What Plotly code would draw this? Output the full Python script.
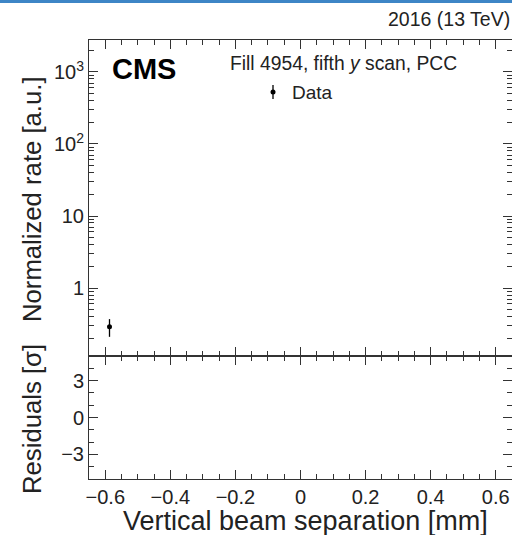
import plotly.graph_objects as go

# ---- data ----
separation_mm = [-0.587]
normalized_rate = [0.29]
rate_err = [0.08]

x_tickvals = [-0.6, -0.4, -0.2, 0, 0.2, 0.4, 0.6]
x_ticktext = ["\u22120.6", "\u22120.4", "\u22120.2", "0", "0.2", "0.4", "0.6"]
y_tickvals = [1, 10, 100, 1000]
y_ticktext = ["1", "10", "10<sup>2</sup>", "10<sup>3</sup>"]
res_tickvals = [-3, 0, 3]
res_ticktext = ["\u22123", "0", "3"]

FONT = "Liberation Sans, Arial, sans-serif"
TXT = "#222222"
AX = "#333333"

W, H = 512, 535
L, R, T, B = 89, 0, 40, 56
plot_w = W - L - R
plot_h = H - T - B
split = (479 - 356) / plot_h

log_minor = [m * 10 ** k for k in range(-1, 4) for m in range(2, 10)]

MAJ, MIN = 9, 5
fig = go.Figure()
fig.add_trace(go.Scatter(
    x=separation_mm, y=normalized_rate, mode="markers",
    marker=dict(color="black", size=5),
    error_y=dict(type="data", array=rate_err, color="black", thickness=1.3, width=0),
    xaxis="x", yaxis="y", showlegend=False))
fig.add_trace(go.Scatter(x=[], y=[], xaxis="x2", yaxis="y2", showlegend=False))

common_x = dict(range=[-0.65, 0.65], showgrid=False, zeroline=False, showline=True,
                linecolor=AX, linewidth=1, ticks="inside", ticklen=MAJ, tickwidth=1,
                tickcolor=AX, mirror="ticks", tickvals=x_tickvals,
                minor=dict(dtick=0.05, tick0=0, ticks="inside", ticklen=MIN, tickcolor=AX, tickwidth=1))

TICKSIZE = 20
fig.update_layout(
    width=W, height=H,
    margin=dict(l=L, r=R, t=T, b=B),
    paper_bgcolor="white", plot_bgcolor="white",
    font=dict(family=FONT, color=TXT, size=TICKSIZE),
    xaxis=dict(common_x, domain=[0, 1], anchor="y", showticklabels=False, ticktext=x_ticktext),
    yaxis=dict(type="log", range=[-0.944, 3.444], domain=[split, 1], anchor="x",
               showgrid=False, zeroline=False, showline=True, linecolor=AX, linewidth=1,
               ticks="inside", ticklen=MAJ, tickwidth=1, tickcolor=AX, mirror="ticks",
               tickvals=y_tickvals, ticktext=y_ticktext, tickfont=dict(size=TICKSIZE),
               minor=dict(tickvals=log_minor, ticks="inside", ticklen=MIN, tickcolor=AX, tickwidth=1)),
    xaxis2=dict(common_x, domain=[0, 1], anchor="y2", ticktext=x_ticktext,
                tickfont=dict(size=TICKSIZE)),
    yaxis2=dict(range=[-5, 5], domain=[0, split], anchor="x2",
                showgrid=False, zeroline=False, showline=True, linecolor=AX, linewidth=1,
                ticks="inside", ticklen=MAJ, tickwidth=1, tickcolor=AX, mirror="ticks",
                tickvals=res_tickvals, ticktext=res_ticktext, tickfont=dict(size=TICKSIZE),
                minor=dict(dtick=1, tick0=0, ticks="inside", ticklen=MIN, tickcolor=AX, tickwidth=1)),
)


def px(xp):
    return (xp - L) / plot_w


def py(yp):
    return (479 - yp) / plot_h


ann = [
    dict(text="<b>CMS</b>", x=px(110), y=py(69), xanchor="left", yanchor="middle",
         font=dict(size=29, color="black")),
    dict(text="Fill 4954, fifth <i>y</i> scan, PCC", x=px(343), y=py(64),
         xanchor="center", yanchor="middle", font=dict(size=19.3)),
    dict(text="Data", x=px(290), y=py(92), xanchor="left", yanchor="middle",
         font=dict(size=19)),
    dict(text="2016 (13 TeV)", x=1, y=py(19), xanchor="right", yanchor="middle",
         font=dict(size=19.5)),
    dict(text="Vertical beam separation [mm]", x=px(305), y=py(521),
         xanchor="center", yanchor="middle", font=dict(size=27)),
    dict(text="Normalized rate [a.u.]", x=px(32), y=py(199), xanchor="center",
         yanchor="middle", textangle=-90, font=dict(size=25.7)),
    dict(text="Residuals [\u03c3]", x=px(32), y=py(419), xanchor="center",
         yanchor="middle", textangle=-90, font=dict(size=25.7)),
]
for a in ann:
    a.update(xref="paper", yref="paper", showarrow=False)
fig.update_layout(annotations=ann)

kx = px(273)
shapes = [
    dict(type="line", x0=kx, x1=kx, y0=py(99), y1=py(85), line=dict(color="black", width=1.3)),
    dict(type="circle", x0=kx - 2.5 / plot_w, x1=kx + 2.5 / plot_w, y0=py(94.5), y1=py(89.5),
         fillcolor="black", line=dict(color="black", width=0)),
    dict(type="rect", x0=px(0), x1=1, y0=py(3), y1=py(0), fillcolor="#3d85c6", line=dict(width=0)),
]
for s in shapes:
    s.update(xref="paper", yref="paper")
fig.update_layout(shapes=shapes)

fig.write_html("out.html", config={"displayModeBar": False},
               post_script="document.body.style.margin='0';document.body.style.overflow='hidden';")
